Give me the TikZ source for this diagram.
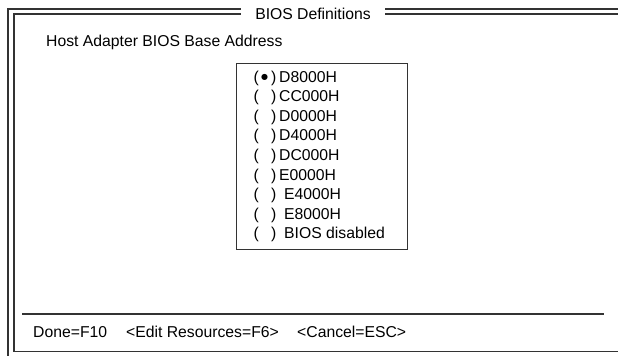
\documentclass[tikz,border=0pt]{standalone}
\usepackage{fontspec}
\setmainfont{Liberation Sans}
\newfontfamily\symfont{DejaVu Sans}

\begin{document}
\begin{tikzpicture}[x=1bp, y=-1bp,
  frame/.style={draw=black!80, line width=1.3bp},
  txt/.style={anchor=base west, inner sep=0pt, font=\fontsize{15.8}{18}\selectfont},
  listbox/.style={draw=black!80, line width=1bp, minimum width=171bp, minimum height=186bp, inner sep=0pt}]
\useasboundingbox (0,0) rectangle (618,356);

% Doppelter Rahmen
\draw[frame] (618,9) -- (8,9) -- (8,356);
\draw[frame] (618,14) -- (14,14) -- (14,351.5) -- (618,351.5);
\node[fill=white, inner xsep=14bp, inner ysep=5bp, anchor=base, font=\fontsize{15.8}{18}\selectfont] (title) at (313,19) {BIOS Definitions};

% Kopfzeile
\node[txt] (head) at (46,46) {Host Adapter BIOS Base Address};

% Auswahlliste
\node[listbox] (addrbox) at (321.5,156.5) {};
\foreach \lbl/\xx [count=\i from 0] in {D8000H/279, CC000H/279, D0000H/279, D4000H/279, DC000H/279, E0000H/279, E4000H/284, E8000H/284, BIOS disabled/284} {
  \node[txt] (opn\i) at (253.5,{82+19.6*\i}) {(};
  \node[txt] (cls\i) at (271,{82+19.6*\i}) {)};
  \node[txt] (opt\i) at (\xx,{82+19.6*\i}) {\lbl};
}
\node[inner sep=0pt, font=\symfont\fontsize{8}{9}\selectfont] (mark) at (264.5,77) {●};

% Fusszeile
\draw[draw=black!80, line width=1.1bp] (22,314) -- (604,314);
\node[txt] (done) at (33,337) {Done=F10};
\node[txt] (edit) at (126,337) {<Edit Resources=F6>};
\node[txt] (cancel) at (297,337) {<Cancel=ESC>};
\end{tikzpicture}
\end{document}
